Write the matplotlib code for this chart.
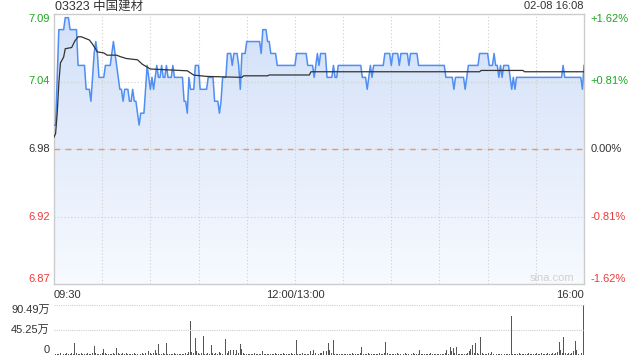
import numpy as np
import matplotlib
matplotlib.use("Agg")
import matplotlib.pyplot as plt
from matplotlib.colors import LinearSegmentedColormap
from matplotlib.transforms import blended_transform_factory

plt.rcParams["font.family"] = ["Liberation Sans", "Noto Sans CJK SC", "DejaVu Sans"]

title = "03323 中国建材"
stamp = "02-08 16:08"
prev_close = 6.98
pct_limit = 1.62

# 分时价格 (每分钟, 以游程方式记录: 价格, 持续分钟数)
price_levels = [7.00, 7.04, 7.08, 7.09, 7.08, 7.05, 7.03, 7.02, 7.04, 7.06, 7.07, 7.06,
                7.04, 7.05, 7.06, 7.07, 7.06, 7.05, 7.04, 7.03, 7.02, 7.03, 7.02, 7.03,
                7.02, 7.01, 7.00, 7.01, 7.03, 7.05, 7.04, 7.03, 7.04, 7.03, 7.04, 7.05,
                7.04, 7.05, 7.04, 7.05, 7.04, 7.05, 7.04, 7.02, 7.01, 7.04, 7.03, 7.05,
                7.03, 7.04, 7.02, 7.01, 7.02, 7.04, 7.06, 7.05, 7.06, 7.05, 7.03, 7.06,
                7.07, 7.06, 7.08, 7.07, 7.06, 7.05, 7.06, 7.05, 7.04, 7.05, 7.06, 7.05,
                7.06, 7.04, 7.05, 7.04, 7.05, 7.04, 7.03, 7.04, 7.05, 7.04, 7.05, 7.06,
                7.05, 7.06, 7.05, 7.06, 7.05, 7.06, 7.05, 7.04, 7.03, 7.04, 7.03, 7.04,
                7.05, 7.06, 7.05, 7.06, 7.05, 7.04, 7.05, 7.04, 7.05, 7.04, 7.03, 7.04,
                7.03, 7.04, 7.05, 7.04, 7.03, 7.05]
price_runs = [2, 1, 4, 3, 5, 5, 3, 1, 1, 1, 1, 1,
              4, 4, 1, 1, 1, 1, 1, 2, 1, 3, 2, 1,
              2, 1, 1, 3, 1, 1, 1, 1, 1, 1, 1, 1,
              2, 1, 2, 1, 3, 1, 6, 2, 1, 1, 3, 3,
              5, 4, 3, 1, 1, 3, 3, 1, 3, 1, 1, 3,
              9, 1, 3, 2, 4, 12, 7, 4, 1, 1, 1, 1,
              4, 4, 1, 2, 15, 3, 1, 1, 1, 1, 7, 4,
              1, 4, 1, 5, 1, 5, 17, 5, 1, 6, 1, 1,
              7, 6, 3, 1, 2, 1, 1, 1, 4, 1, 1, 1,
              1, 29, 1, 11, 1, 1]

# 均价线
avg_minutes = [0, 1, 2, 3, 4, 6, 7, 11, 13, 15, 17, 22, 24, 27, 31, 33, 39, 41, 45, 52,
               55, 60, 83, 87, 95, 117, 118, 133, 134, 159, 160, 265, 266, 292, 293, 330]
avg_values = [6.99, 6.993, 7.01, 7.035, 7.052, 7.057, 7.064, 7.065, 7.0705, 7.074, 7.074,
              7.0713, 7.0678, 7.0613, 7.0605, 7.0586, 7.0586, 7.0575, 7.0558, 7.0547,
              7.051, 7.047, 7.0455, 7.0419, 7.0408, 7.040, 7.0413, 7.0413, 7.042, 7.042,
              7.0447, 7.0447, 7.0458, 7.0458, 7.0447, 7.0447]

# 成交量 (万股, 每分钟)
volume = [3, 1, 2, 1, 3, 2, 1, 2, 4, 2, 1, 3, 2, 22.6, 4, 2, 1, 3, 2, 1,
          2, 3, 1, 2, 3, 16, 4, 2, 1, 2, 3, 11, 3, 1, 2, 2, 1, 3, 2, 12.5,
          3, 2, 1, 4, 2, 3, 1, 2, 1, 2, 3, 1, 2, 5, 2, 3, 2, 4, 12.5, 8,
          3, 2, 4, 9, 3, 20, 2, 1, 3, 2, 22.6, 2, 1, 2, 1, 3, 2, 1, 2, 1,
          2, 1, 3, 2, 5, 62.4, 5, 3, 31, 8, 4, 2, 3, 33.5, 2, 1, 3, 2, 18, 4,
          2, 3, 2, 5, 3, 2, 4, 29, 3, 7, 9, 3, 9, 2, 9, 4, 20, 11, 3, 2,
          1, 2, 1, 2, 1, 3, 1, 2, 1, 2, 7, 2, 1, 2, 1, 1, 2, 1, 3, 1,
          2, 1, 1, 3, 2, 1, 2, 1, 4, 2, 1, 27, 2, 1, 2, 3, 1, 2, 1, 2,
          7, 2, 9, 3, 11, 2, 3, 4, 7, 3, 7, 21.7, 9, 3, 27, 2, 1, 2, 1, 2,
          1, 2, 1, 1, 2, 1, 3, 1, 2, 1, 2, 3, 14.5, 2, 1, 2, 3, 1, 2, 1,
          2, 1, 2, 3, 1, 2, 4, 24.4, 3, 2, 1, 2, 1, 2, 3, 1, 2, 1, 2, 3,
          1, 2, 1, 2, 3, 1, 2, 2, 9, 2, 1, 2, 1, 2, 1, 3, 1, 2, 1, 2,
          1, 2, 1, 2, 3, 9, 2, 14.5, 7, 11.8, 3, 14.5, 2, 1, 2, 1, 2, 1, 3, 7,
          11, 18, 3, 21, 4, 2, 31.7, 3, 2, 1, 2, 3, 2, 5, 2, 1, 2, 1, 2, 1,
          2, 1, 2, 1, 2, 69.7, 2, 1, 2, 1, 3, 1, 2, 1, 2, 1, 4, 2, 1, 2,
          1, 3, 1, 2, 3, 2, 1, 2, 4, 2, 1, 3, 2, 4, 6, 24.4, 9, 3, 32.6, 4,
          2, 3, 1, 3, 7, 25.3, 9, 2, 4.5, 3, 90.49]
vol_ticks = [90.49, 45.245, 0]
vol_labels = ["90.49万", "45.25万", "0"]

time_labels = ["09:30", "12:00/13:00", "16:00"]
time_ticks = [0, 150, 330]

GREEN = "#1fa51f"
RED = "#ee3b3b"
DARK = "#333333"
GRID = "#cfcfcf"
FS = 8

prices = np.repeat(price_levels, price_runs)
minutes = np.arange(len(prices))
total = 330

lo = prev_close * (1 - pct_limit / 100)
hi = prev_close * (1 + pct_limit / 100)

fig = plt.figure(figsize=(6.4, 3.6), dpi=100)
ax = fig.add_axes([54 / 640, 1 - 284 / 360, 530 / 640, 270 / 360])
ax_v = fig.add_axes([54 / 640, 5 / 360, 530 / 640, 50 / 360])

# 渐变填充
cmap = LinearSegmentedColormap.from_list("fill", ["#f7faff", "#d2e0f8"])
poly = ax.fill_between(minutes, prices, lo, color="none", lw=0)
grad = ax.imshow(np.linspace(0, 1, 256).reshape(-1, 1), extent=[0, total, lo, hi],
                 origin="lower", cmap=cmap, aspect="auto", zorder=1)
grad.set_clip_path(poly.get_paths()[0], transform=ax.transData)

ax.plot(minutes, prices, color="#4f8ef2", lw=1.1, zorder=4)
ax.plot(avg_minutes, avg_values, color="#333333", lw=0.9, zorder=5)

# 网格
for m in range(30, total, 30):
    ax.axvline(m, color=GRID, lw=0.8, ls=(0, (1, 2)), zorder=2)
for p in [prev_close * (1 + pct_limit / 200), prev_close * (1 - pct_limit / 200)]:
    ax.axhline(p, color=GRID, lw=0.8, ls=(0, (1, 2)), zorder=2)
ax.axhline(prev_close, color=GRID, lw=0.8, ls=(0, (1, 2)), zorder=2)
ax.axhline(prev_close, color="#ee9560", lw=1.0, ls=(0, (4, 4)), zorder=3)

ax.set_xlim(0, total)
ax.set_ylim(lo, hi)
ax.set_xticks([])
ax.set_yticks([])
for s in ax.spines.values():
    s.set_color("#cccccc")
    s.set_linewidth(1)

# 左右刻度标签
tr = blended_transform_factory(ax.transAxes, ax.transData)
pcts = [pct_limit, pct_limit / 2, 0, -pct_limit / 2, -pct_limit]
vas = ["top", "center", "center", "center", "bottom"]
for pc, va in zip(pcts, vas):
    val = prev_close * (1 + pc / 100)
    col = GREEN if pc > 0 else (RED if pc < 0 else DARK)
    ax.text(-0.008, val, f"{val:.2f}", transform=tr, ha="right", va=va,
            color=col, fontsize=FS)
    sign = "+" if pc > 0 else ""
    ax.text(1.012, val, f"{sign}{pc:.2f}%", transform=tr, ha="left", va=va,
            color=col, fontsize=FS)

# 时间标签
tx = blended_transform_factory(ax.transData, ax.transAxes)
for t, lab, ha in zip(time_ticks, time_labels, ["left", "center", "right"]):
    ax.text(t, -0.04, lab, transform=tx, ha=ha, va="center", color=DARK, fontsize=FS)

ax.text(0.002, 1.028, title, transform=ax.transAxes, ha="left", va="center",
        color=DARK, fontsize=9)
ax.text(1.0, 1.028, stamp, transform=ax.transAxes, ha="right", va="center",
        color=DARK, fontsize=FS)
ax.text(0.94, 0.022, "sina.com", transform=ax.transAxes, ha="center", va="center",
        color="#d0d0d0", fontsize=FS, zorder=6)

# 成交量
ax_v.bar(np.arange(len(volume)), volume, width=0.6, color="#555555", lw=0)
ax_v.axhline(vol_ticks[0], color=GRID, lw=0.8, ls=(0, (1, 1)), clip_on=False)
ax_v.axhline(vol_ticks[1], color=GRID, lw=0.8, ls=(0, (1, 1)))
ax_v.set_xlim(0, total + 0.5)
ax_v.set_ylim(0, vol_ticks[0])
ax_v.set_xticks([])
ax_v.set_yticks([])
for s in ax_v.spines.values():
    s.set_visible(False)
trv = blended_transform_factory(ax_v.transAxes, ax_v.transData)
for v, lab, va in zip(vol_ticks, vol_labels, ["top", "center", "bottom"]):
    ax_v.text(-0.008, v, lab, transform=trv, ha="right", va=va, color=DARK, fontsize=FS)

fig.savefig("out.png", dpi=100)
